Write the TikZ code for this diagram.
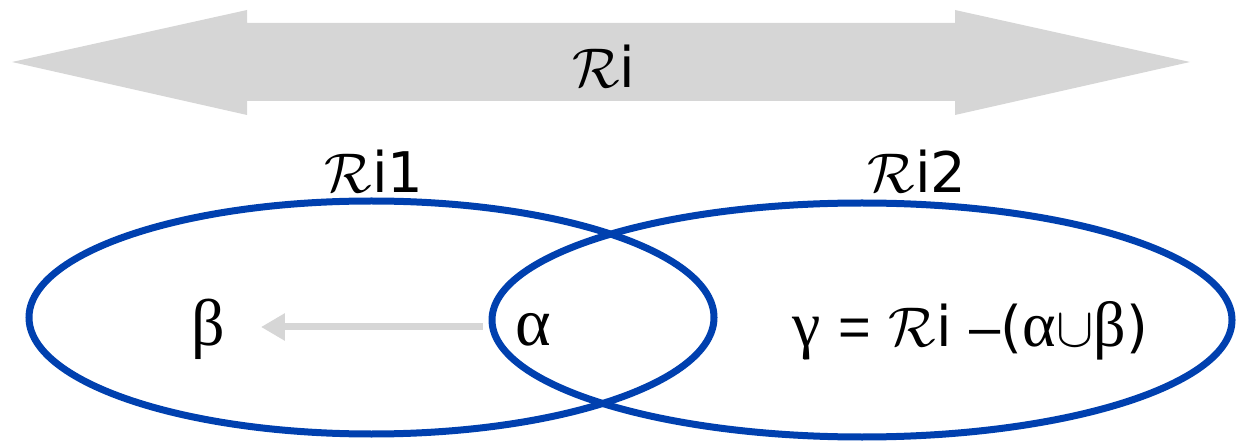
\documentclass[tikz,border=0pt]{standalone}
\usepackage{fontspec}
\setmainfont{DejaVu Sans}
\newfontfamily\grk{Liberation Serif}
\newfontfamily\lsans{Liberation Sans}
\DeclareFontShape{OMS}{cmsy}{m}{n}{<->cmsy10}{}
\DeclareFontShape{OML}{cmm}{m}{it}{<->cmmi10}{}
\DeclareFontShape{OT1}{cmr}{m}{n}{<->cmr10}{}
\DeclareFontShape{OMX}{cmex}{m}{n}{<->cmex10}{}
\usetikzlibrary{arrows.meta,shapes.geometric,calc}
\definecolor{setblue}{RGB}{0,64,175}
\definecolor{arrgray}{RGB}{214,214,214}
\newcommand{\Rcal}{$\mathcal{R}$}
\newcommand{\gk}[1]{{\fontsize{64}{68}\selectfont\grk #1}}
\begin{document}
\begin{tikzpicture}[x=1pt,y=-1pt,
  lbl/.style={font=\fontsize{56}{60}\selectfont, inner sep=0pt, anchor=base},
  setring/.style={ellipse, draw=setblue, line width=7pt, inner sep=0pt},
  flow/.style={draw=arrgray, line width=7pt, -{Triangle[length=24pt,width=26pt]}}]
\useasboundingbox (0,0) rectangle (1236,443);
% big double arrow
\fill[arrgray] (12,62) -- (247,10) -- (247,23) -- (955,23) -- (955,10) -- (1190,62)
  -- (955,115) -- (955,101) -- (247,101) -- (247,115) -- cycle;
\node[lbl] (Ri) at (604,88) {\Rcal i};
% sets
\node[setring, minimum width=685pt, minimum height=233pt] (E1) at (371.5,317.5) {};
\node[setring, minimum width=740pt, minimum height=234pt] (E2) at (862,320) {};
\node[lbl] (L1) at (374,193) {\Rcal i1};
\node[lbl] (L2) at (917,193) {\Rcal i2};
% contents
\node[lbl, font=\fontsize{66}{70}\selectfont\grk] (beta) at (208,345) {β};
\node[lbl, font=\fontsize{68}{72}\selectfont\grk] (alpha) at (533,345) {α};
\node[lbl] (gamma) at (970,346) {\gk{γ} {\lsans =} \Rcal i {\lsans –}(\gk{α}$\cup$\gk{β})};
\draw[flow] ($(alpha.base west)+(-32,-18)$) -- ($(beta.base east)+(36,-18)$);
\end{tikzpicture}
\end{document}
